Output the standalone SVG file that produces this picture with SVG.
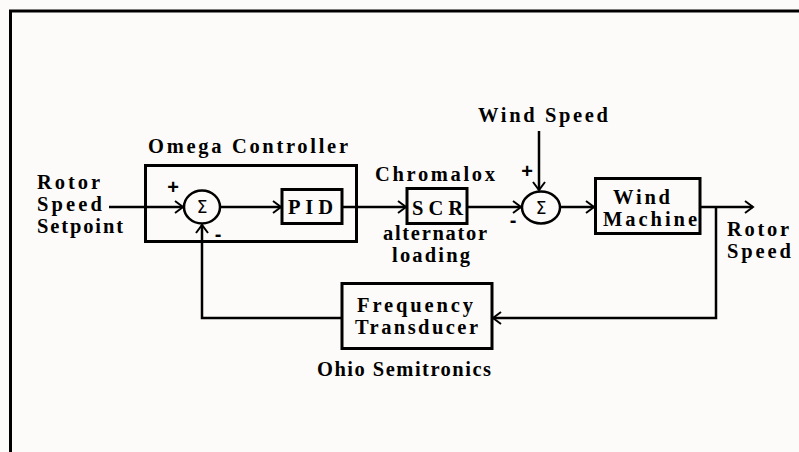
<svg xmlns="http://www.w3.org/2000/svg" width="799" height="452" viewBox="0 0 799 452">
<style>
.t{font-family:"Liberation Serif","Times New Roman",serif;font-weight:bold;font-size:20.5px;fill:#000}
.s{font-family:"DejaVu Sans","Liberation Sans",sans-serif;font-size:17px;fill:#000}
.b{fill:none;stroke:#000;stroke-width:3}
.c{fill:none;stroke:#000;stroke-width:2.5}
.ln{fill:none;stroke:#000;stroke-width:2.5}
.sg{font-family:"Liberation Sans",Arial,sans-serif;font-weight:bold;font-size:20px;fill:#000}
</style>
<defs>
<marker id="ah" markerUnits="userSpaceOnUse" markerWidth="12" markerHeight="14" refX="9" refY="7" orient="auto">
<path d="M1,1 L9,7 L1,13" fill="none" stroke="#000" stroke-width="2"/>
</marker>
</defs>
<rect x="0" y="0" width="799" height="452" fill="#fdfbf9"/>
<path d="M10.5,452 V11 H799" fill="none" stroke="#000" stroke-width="3"/>

<g id="connectors">
<path class="ln" d="M109,207 H183" marker-end="url(#ah)"/>
<path class="ln" d="M220,207 H281" marker-end="url(#ah)"/>
<path class="ln" d="M342,207 H406" marker-end="url(#ah)"/>
<path class="ln" d="M467,207 H521" marker-end="url(#ah)"/>
<path class="ln" d="M560,207 H594" marker-end="url(#ah)"/>
<path class="ln" d="M700,207 H753" marker-end="url(#ah)"/>
<path class="ln" d="M539,131 V190" marker-end="url(#ah)"/>
<path class="ln" d="M716,207 V318 H493" marker-end="url(#ah)"/>
<path class="ln" d="M342,318 H202 V225" marker-end="url(#ah)"/>
</g>

<g id="omega">
<rect class="b" x="145.5" y="165.5" width="211" height="76"/>
<text class="t" x="148" y="153" textLength="200" lengthAdjust="spacing">Omega Controller</text>
</g>

<g id="sum1">
<ellipse class="c" cx="202" cy="207" rx="18" ry="16.5"/>
<text class="s" x="202" y="213" text-anchor="middle">Σ</text>
<text class="sg" x="173" y="194" text-anchor="middle">+</text>
<text class="sg" x="218" y="241" text-anchor="middle">-</text>
</g>

<g id="pid">
<rect class="b" x="282" y="189.5" width="60" height="34"/>
<text class="t" x="288" y="214" textLength="45" lengthAdjust="spacing">PID</text>
</g>

<g id="scr">
<rect class="b" x="407" y="188.5" width="60" height="35"/>
<text class="t" x="412" y="215" textLength="51" lengthAdjust="spacing">SCR</text>
<text class="t" x="375" y="181" textLength="120" lengthAdjust="spacing">Chromalox</text>
<text class="t" x="383" y="240" textLength="104" lengthAdjust="spacing">alternator</text>
<text class="t" x="392" y="262" textLength="78" lengthAdjust="spacing">loading</text>
</g>

<g id="sum2">
<ellipse class="c" cx="541" cy="207.5" rx="19" ry="16"/>
<text class="s" x="541" y="213.5" text-anchor="middle">Σ</text>
<text class="sg" x="527" y="178" text-anchor="middle">+</text>
<text class="sg" x="513" y="227" text-anchor="middle">-</text>
</g>

<g id="windspeed">
<text class="t" x="478" y="122" textLength="130" lengthAdjust="spacing">Wind Speed</text>
</g>

<g id="windmachine">
<rect class="b" x="595.5" y="178.5" width="104.5" height="55"/>
<text class="t" x="613" y="204" textLength="57" lengthAdjust="spacing">Wind</text>
<text class="t" x="603" y="226" textLength="94" lengthAdjust="spacing">Machine</text>
</g>

<g id="setpoint">
<text class="t" x="37" y="189" textLength="63" lengthAdjust="spacing">Rotor</text>
<text class="t" x="37" y="211" textLength="65" lengthAdjust="spacing">Speed</text>
<text class="t" x="37" y="233" textLength="86" lengthAdjust="spacing">Setpoint</text>
</g>

<g id="rotorspeed">
<text class="t" x="727" y="236" textLength="62" lengthAdjust="spacing">Rotor</text>
<text class="t" x="727" y="258" textLength="64" lengthAdjust="spacing">Speed</text>
</g>

<g id="freq">
<rect class="b" x="342" y="283.5" width="150" height="65"/>
<text class="t" x="357" y="312" textLength="116" lengthAdjust="spacing">Frequency</text>
<text class="t" x="355" y="334" textLength="123" lengthAdjust="spacing">Transducer</text>
<text class="t" x="317" y="376" textLength="174" lengthAdjust="spacing">Ohio Semitronics</text>
</g>
</svg>
